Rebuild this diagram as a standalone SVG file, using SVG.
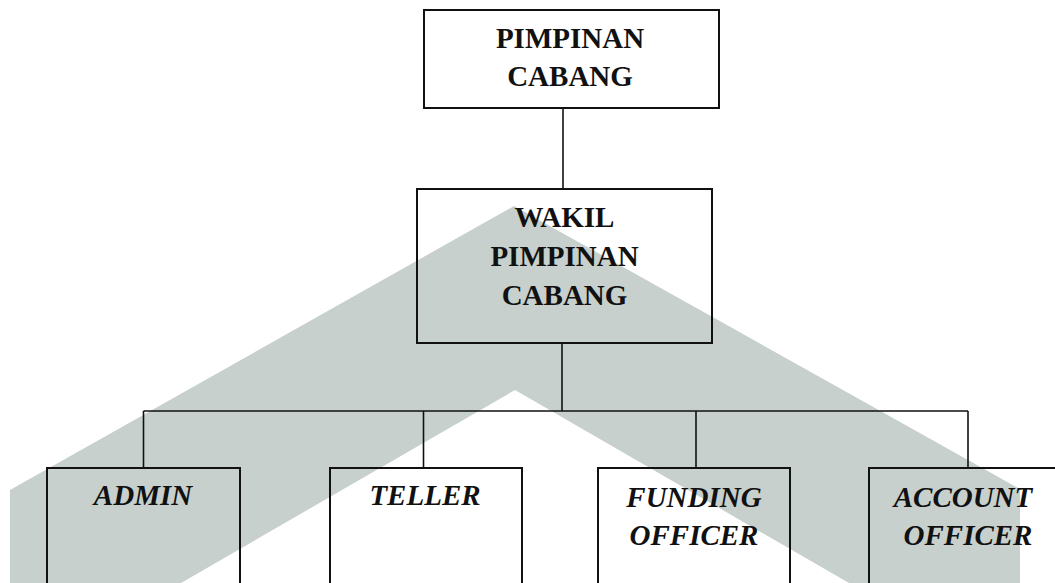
<svg xmlns="http://www.w3.org/2000/svg" width="1055" height="583" viewBox="0 0 1055 583">
<style>
.box{fill:none;stroke:#111;stroke-width:2}
.ln{fill:none;stroke:#111;stroke-width:1.6}
.t{font-family:"Liberation Serif","Times New Roman",serif;font-weight:bold;font-size:29px;fill:#111;text-anchor:middle}
.i{font-style:italic}
</style>
<rect width="1055" height="583" fill="#fff"/>
<path id="watermark" d="M10,490 L514,206 L1020,489 L1020,583 L849,583 L515,390 L181,583 L10,583 Z" fill="#c7d0cc"/>
<g id="connectors">
<line class="ln" x1="563" y1="108" x2="563" y2="189"/>
<line class="ln" x1="562" y1="343" x2="562" y2="411"/>
<line class="ln" x1="143.5" y1="411" x2="968" y2="411"/>
<line class="ln" x1="143.5" y1="411" x2="143.5" y2="468"/>
<line class="ln" x1="423.5" y1="411" x2="423.5" y2="468"/>
<line class="ln" x1="696" y1="411" x2="696" y2="468"/>
<line class="ln" x1="968" y1="411" x2="968" y2="468"/>
</g>
<g id="pimpinan">
<rect class="box" x="424" y="10" width="295" height="98"/>
<text class="t" x="570" y="48">PIMPINAN</text>
<text class="t" x="570" y="86">CABANG</text>
</g>
<g id="wakil">
<rect class="box" x="417" y="189" width="295" height="154"/>
<text class="t" x="564.5" y="227">WAKIL</text>
<text class="t" x="564.5" y="266">PIMPINAN</text>
<text class="t" x="564.5" y="305">CABANG</text>
</g>
<g id="admin">
<rect class="box" x="47" y="468" width="193" height="116"/>
<text class="t i" x="143" y="505">ADMIN</text>
</g>
<g id="teller">
<rect class="box" x="330" y="468" width="192" height="116"/>
<text class="t i" x="425" y="505">TELLER</text>
</g>
<g id="funding">
<rect class="box" x="598" y="468" width="192" height="116"/>
<text class="t i" x="694" y="507">FUNDING</text>
<text class="t i" x="694" y="545">OFFICER</text>
</g>
<g id="account">
<rect class="box" x="869" y="468" width="198" height="116"/>
<text class="t i" x="963" y="507">ACCOUNT</text>
<text class="t i" x="968" y="545">OFFICER</text>
</g>
</svg>
